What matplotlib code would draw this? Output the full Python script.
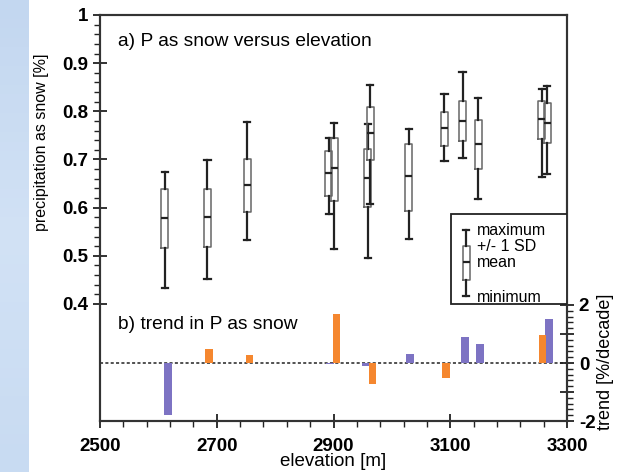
import numpy as np
import matplotlib
matplotlib.use('Agg')
import matplotlib.pyplot as plt
from matplotlib.patches import Rectangle
from matplotlib.ticker import FixedLocator

plt.rcParams['font.family'] = ['Liberation Sans', 'DejaVu Sans']

# box statistics (P as snow, fraction)
elev = [2611, 2684, 2752, 2892, 2901, 2959, 2963, 3029, 3090, 3121, 3148, 3257, 3266]
p_max = [0.675, 0.699, 0.777, 0.744, 0.775, 0.773, 0.855, 0.763, 0.835, 0.882, 0.827, 0.846, 0.853]
p_hi = [0.639, 0.638, 0.701, 0.718, 0.744, 0.721, 0.810, 0.732, 0.799, 0.822, 0.782, 0.822, 0.817]
p_mean = [0.578, 0.580, 0.648, 0.672, 0.683, 0.662, 0.756, 0.665, 0.765, 0.780, 0.732, 0.784, 0.775]
p_lo = [0.516, 0.518, 0.591, 0.625, 0.613, 0.602, 0.699, 0.593, 0.727, 0.739, 0.681, 0.742, 0.734]
p_min = [0.434, 0.452, 0.533, 0.587, 0.515, 0.495, 0.608, 0.535, 0.696, 0.703, 0.618, 0.663, 0.669]

# trend bars [%/decade]
purple_elev = [2616, 2894, 2956, 3031, 3125, 3151, 3269]
purple_trend = [-1.79, -0.05, -0.11, 0.32, 0.91, 0.66, 1.52]
orange_elev = [2687, 2756, 2905, 2967, 3093, 3258]
orange_trend = [0.49, 0.29, 1.69, -0.74, -0.50, 0.95]

x_ticks = [2500, 2700, 2900, 3100, 3300]

fig = plt.figure(figsize=(6.18, 4.72), dpi=100)

# slide background strip on the left
bg = fig.add_axes([0, 0, 29 / 618, 1])
grad = np.linspace(0, 1, 50).reshape(-1, 1)
bg.imshow(grad, aspect='auto', cmap=matplotlib.colors.LinearSegmentedColormap.from_list(
    'bl', ['#C3D7F0', '#D2E2F5', '#C8DBF2']))
bg.axis('off')

ax = fig.add_axes([100 / 618, 51 / 472, 467 / 618, 406 / 472])
ax2 = ax.twinx()
ax.set_zorder(2)
ax.patch.set_visible(False)

box_style = dict(boxprops=dict(color='#666666', linewidth=1.1),
                 whiskerprops=dict(color='#222222', linewidth=1.6),
                 capprops=dict(color='#222222', linewidth=1.6),
                 medianprops=dict(color='#222222', linewidth=1.6))

stats = []
for i in range(len(elev)):
    stats.append(dict(med=p_mean[i], q1=p_lo[i], q3=p_hi[i],
                      whislo=p_min[i], whishi=p_max[i]))
ax.bxp(stats, positions=elev, widths=12, capwidths=11, showfliers=False,
       manage_ticks=False, **box_style)

# legend box
ax.add_patch(Rectangle((3102, 0.4), 198, 0.187, facecolor='white',
                       edgecolor='#222222', linewidth=1.3, zorder=3))
leg = [dict(med=0.487, q1=0.450, q3=0.520, whislo=0.417, whishi=0.554)]
bp = ax.bxp(leg, positions=[3127], widths=12, capwidths=9, showfliers=False,
            manage_ticks=False, **box_style)
for k in bp:
    for art in bp[k]:
        art.set_zorder(4)
for txt, yy in [('maximum', 0.553), ('+/- 1 SD', 0.519), ('mean', 0.487), ('minimum', 0.413)]:
    ax.text(3146, yy, txt, fontsize=11.5, va='center', ha='left', zorder=5)

ax.set_xlim(2500, 3300)
ax.set_ylim(0.157, 1.0)
ax2.set_ylim(-2, 12)

ax2.bar(purple_elev, purple_trend, width=13, color='#7D73C3', zorder=2)
ax2.bar(orange_elev, orange_trend, width=13, color='#F5872F', zorder=2)
ax2.axhline(0, color='#222222', linewidth=1.1, linestyle=(0, (2, 1.5)), zorder=1)

# ticks
ax.xaxis.set_major_locator(FixedLocator(x_ticks))
ax.xaxis.set_minor_locator(FixedLocator(np.arange(2500, 3301, 40)))
ax.yaxis.set_major_locator(FixedLocator([0.4, 0.5, 0.6, 0.7, 0.8, 0.9, 1.0]))
ax.yaxis.set_minor_locator(FixedLocator(np.arange(0.4, 1.001, 0.02)))
ax.set_yticklabels(['0.4', '0.5', '0.6', '0.7', '0.8', '0.9', '1'])
ax2.yaxis.set_major_locator(FixedLocator([-2, -1, 0, 1, 2]))
ax2.yaxis.set_minor_locator(FixedLocator(np.arange(-2, 2.001, 0.2)))
ax2.set_yticklabels(['-2', '', '0', '', '2'])

for a in (ax, ax2):
    a.tick_params(which='major', direction='inout', length=10, width=1.3,
                  color='#222222', labelsize=13.5)
    a.tick_params(which='minor', direction='out', length=4, width=1.0, color='#222222')
    for s in a.spines.values():
        s.set_linewidth(1.5)
        s.set_color('#333333')
ax.tick_params(axis='x', which='major', pad=7)
for lab in ax.get_xticklabels() + ax.get_yticklabels() + ax2.get_yticklabels():
    lab.set_fontweight('bold')

ax.set_xlabel('elevation [m]', fontsize=13.5, labelpad=-1)
fig.text(42 / 618, 1 - 142 / 472, 'precipitation as snow [%]', fontsize=11.5,
         rotation=90, ha='center', va='center')
fig.text(605 / 618, 1 - 362 / 472, 'trend [%/decade]', fontsize=13,
         rotation=90, ha='center', va='center')

ax.text(0.0375, 0.934, 'a) P as snow versus elevation', transform=ax.transAxes,
        fontsize=13.8, va='center', ha='left')
ax.text(0.0375, 0.238, 'b) trend in P as snow', transform=ax.transAxes,
        fontsize=13.8, va='center', ha='left')

fig.savefig('out.png', dpi=100, facecolor='white')
